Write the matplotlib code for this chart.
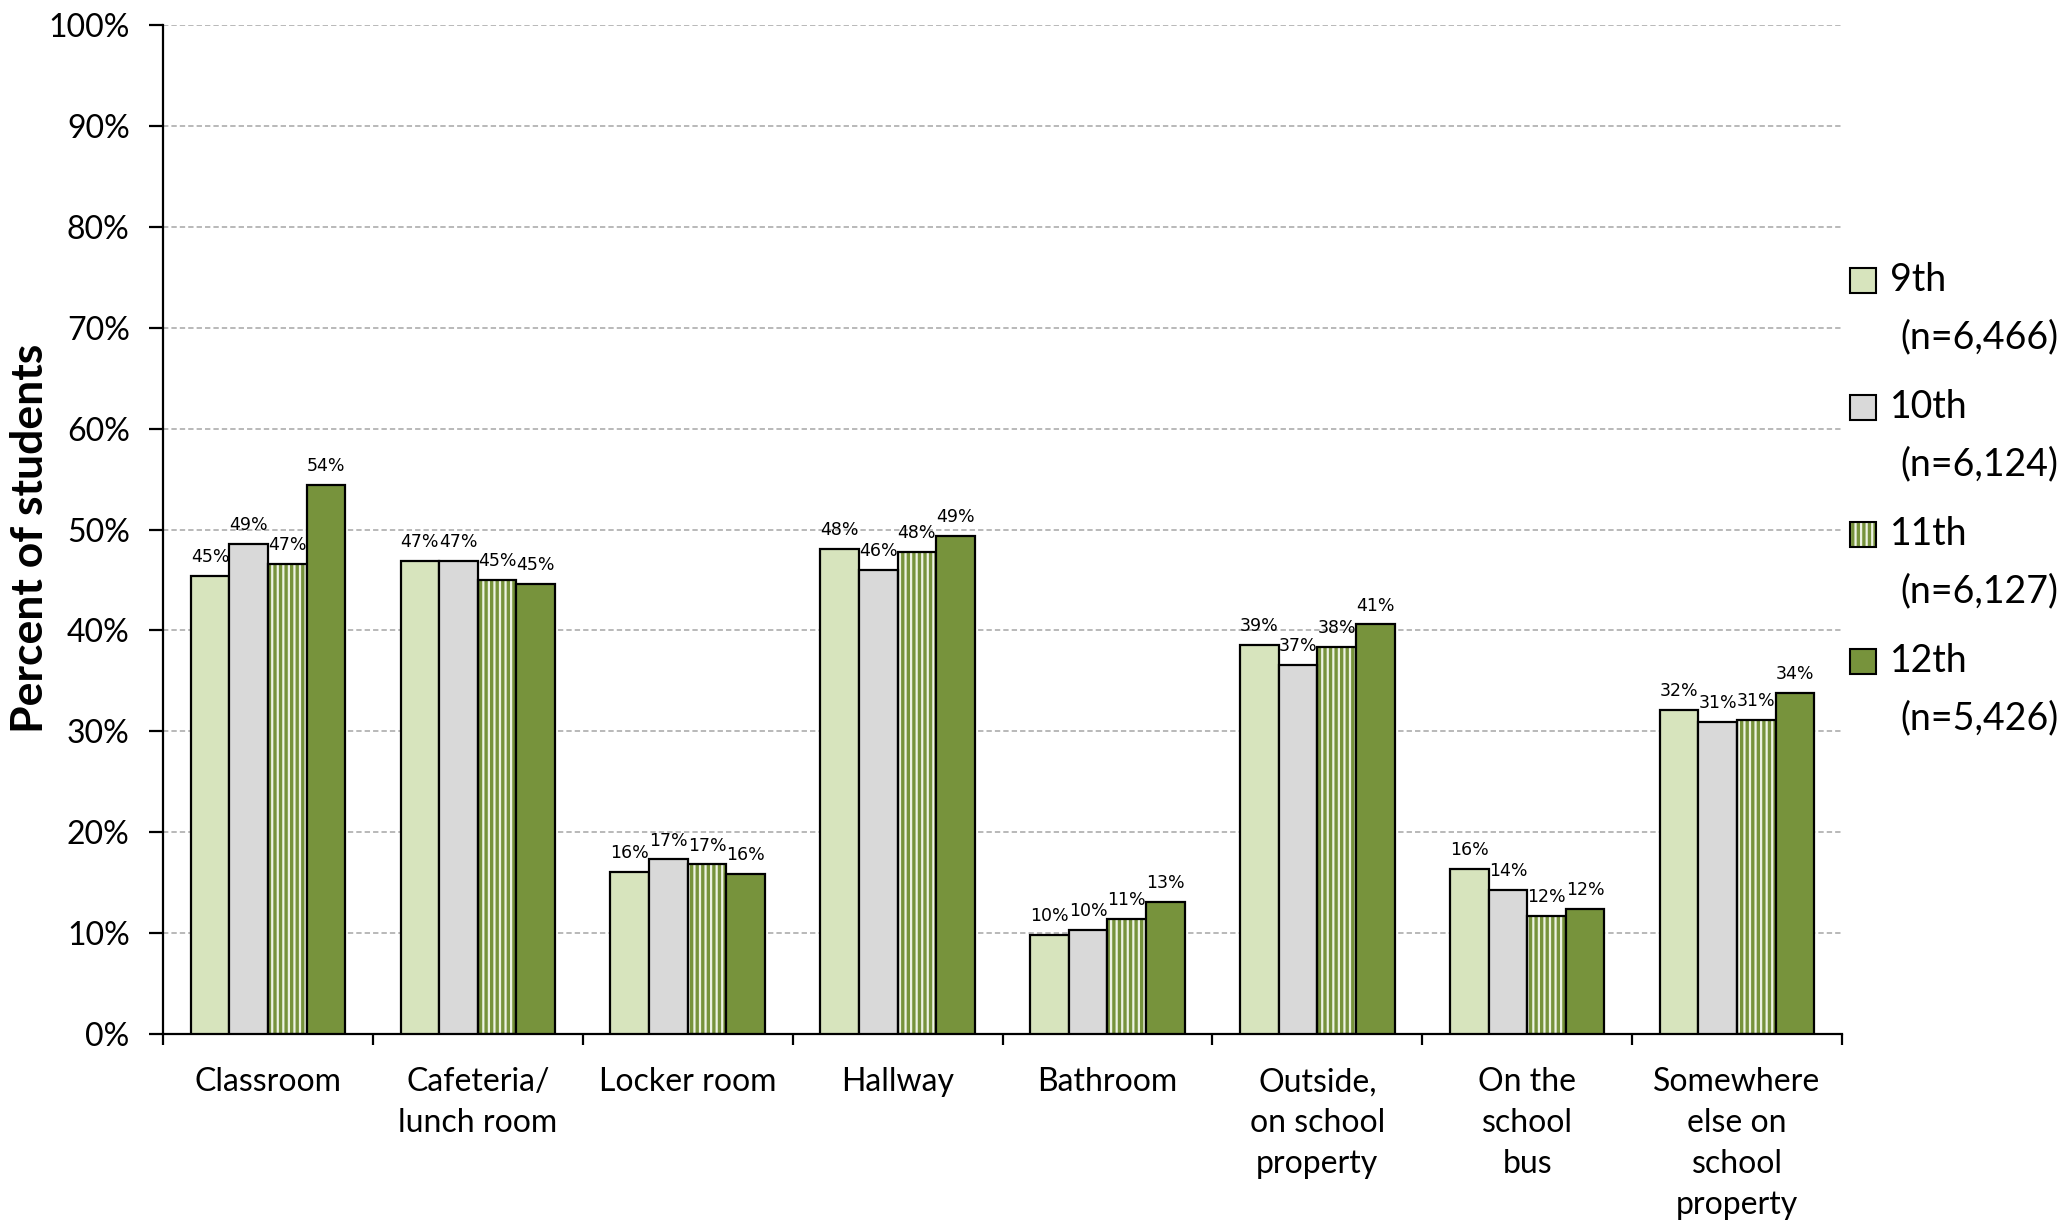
import matplotlib
matplotlib.use('Agg')
import matplotlib.pyplot as plt
from matplotlib.patches import Rectangle
from matplotlib.ticker import FixedLocator, PercentFormatter
import numpy as np

# 数据
categories = ['Classroom', 'Cafeteria/\nlunch room', 'Locker room', 'Hallway', 'Bathroom',
              'Outside,\non school\nproperty', 'On the\nschool\nbus', 'Somewhere\nelse on\nschool\nproperty']
grade_9 = [45.4, 46.9, 16.1, 48.1, 9.8, 38.6, 16.4, 32.1]
grade_10 = [48.6, 46.9, 17.3, 46.0, 10.3, 36.6, 14.3, 30.9]
grade_11 = [46.6, 45.0, 16.8, 47.8, 11.4, 38.4, 11.7, 31.1]
grade_12 = [54.4, 44.6, 15.9, 49.4, 13.1, 40.6, 12.4, 33.8]
legend_labels = ['9th\n(n=6,466)', '10th\n(n=6,124)', '11th\n(n=6,127)', '12th\n(n=5,426)']

series = [grade_9, grade_10, grade_11, grade_12]
face_colors = ['#D7E4BD', '#D9D9D9', '#EEF3E4', '#77933C']
hatch_green = '#77933C'

plt.rcParams['font.family'] = ['Lato', 'DejaVu Sans']
plt.rcParams['hatch.linewidth'] = 2.4

fig = plt.figure(figsize=(20.7, 12.25), dpi=100)
ax = fig.add_axes([163 / 2070, 1 - 1034 / 1225, (1842 - 163) / 2070, (1034 - 25) / 1225])

x = np.arange(len(categories)) + 0.5
w = 0.184

for i, vals in enumerate(series):
    pos = x + (i - 1.5) * w
    if i == 2:
        # 竖条纹填充
        ax.bar(pos, vals, w, color=face_colors[i], edgecolor=hatch_green, hatch='|||', linewidth=0, zorder=2)
        ax.bar(pos, vals, w, fill=False, edgecolor='black', linewidth=1.6, zorder=3)
    else:
        ax.bar(pos, vals, w, color=face_colors[i], edgecolor='black', linewidth=1.6, zorder=3)
    for px, v in zip(pos, vals):
        ax.annotate(f'{v:.0f}%', (px, v), xytext=(0, 7), textcoords='offset points',
                    ha='center', va='bottom', fontsize=12.5, family='DejaVu Sans')

ax.set_xlim(0, len(categories))
ax.set_ylim(0, 100)
ax.yaxis.set_major_locator(FixedLocator(np.arange(0, 101, 10)))
ax.yaxis.set_major_formatter(PercentFormatter(decimals=0))
ax.grid(axis='y', color='#A6A6A6', linestyle=(0, (3.5, 2)), linewidth=1.1)
ax.set_axisbelow(True)

ax.set_xticks(x)
ax.set_xticklabels(categories, fontsize=23, linespacing=1.45)
ax.set_xticks(np.arange(len(categories) + 1), minor=True)
ax.tick_params(axis='x', which='major', length=0, pad=24)
ax.tick_params(axis='x', which='minor', length=8, width=1.6, direction='out')
ax.tick_params(axis='y', labelsize=23, length=10, width=1.6, direction='out', pad=14)

for s in ['top', 'right']:
    ax.spines[s].set_visible(False)
for s in ['left', 'bottom']:
    ax.spines[s].set_linewidth(1.6)

fig.text(30 / 2070, 1 - 538 / 1225, 'Percent of students', rotation=90, ha='center', va='center',
         fontsize=32, fontweight='bold')

# 图例
for i, lab in enumerate(legend_labels):
    yc = 280 + 127 * i
    fig.add_artist(Rectangle((1850 / 2070, 1 - (yc + 12.5) / 1225), 26 / 2070, 25 / 1225,
                             transform=fig.transFigure, facecolor=face_colors[i],
                             edgecolor=hatch_green if i == 2 else 'black',
                             hatch='|||' if i == 2 else None, linewidth=0 if i == 2 else 1.5))
    if i == 2:
        fig.add_artist(Rectangle((1850 / 2070, 1 - (yc + 12.5) / 1225), 26 / 2070, 25 / 1225,
                                 transform=fig.transFigure, fill=False, edgecolor='black', linewidth=1.5))
    first, second = lab.split('\n')
    fig.text(1890 / 2070, 1 - yc / 1225, first, ha='left', va='center', fontsize=27)
    fig.text(1900 / 2070, 1 - (yc + 57) / 1225, second, ha='left', va='center', fontsize=27)

fig.savefig('out.png', dpi=100)
